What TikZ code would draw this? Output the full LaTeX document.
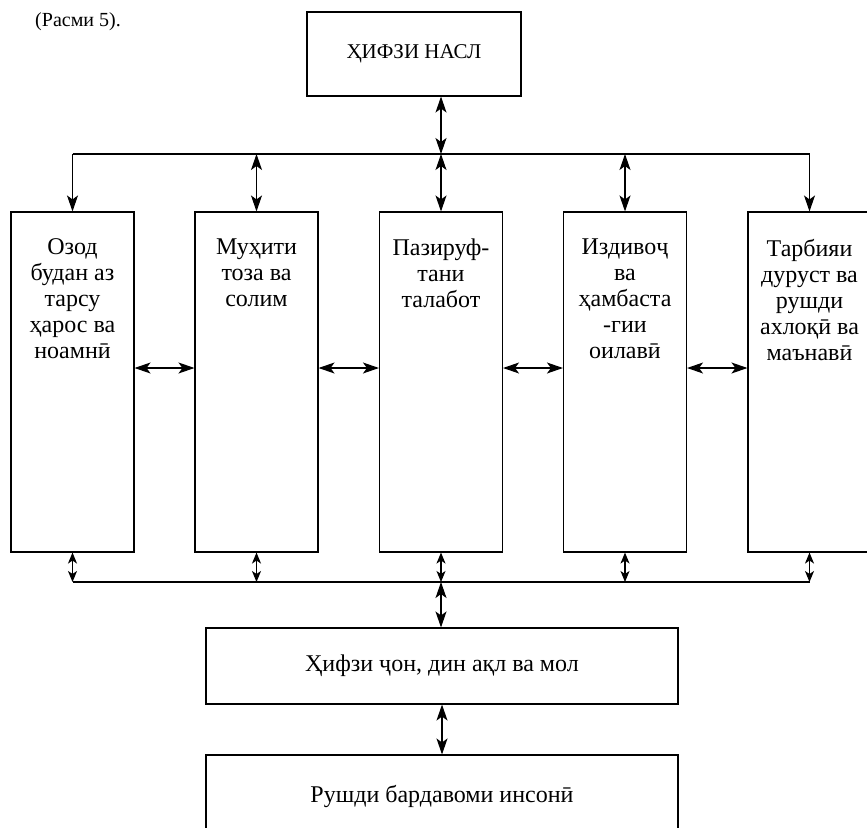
\documentclass[tikz,border=0pt]{standalone}
\usepackage{fontspec}
\setmainfont{Liberation Serif}
\usetikzlibrary{arrows.meta,calc}
\begin{document}
\begin{tikzpicture}[x=1pt,y=-1pt,
  line width=1.1pt,
  every node/.style={font=\fontsize{24}{26}\selectfont},
  colbox/.style={draw, line width=1.1pt, minimum width=123pt, minimum height=340pt, inner sep=0pt},
  widebox/.style={draw, line width=1.1pt, minimum width=472pt, inner sep=0pt},
  coltxt/.style={anchor=north, align=center, inner sep=0pt},
  onetip/.style={-{Stealth[length=16pt,width=11pt,inset=4pt]}},
  twotip/.style={{Stealth[length=16pt,width=11pt,inset=4pt]}-{Stealth[length=16pt,width=11pt,inset=4pt]}},
  shorttip/.style={{Stealth[length=11pt,width=9pt,inset=3pt]}-{Stealth[length=11pt,width=9pt,inset=3pt]}}
]
\useasboundingbox (0,0) rectangle (867,827);

\node[anchor=center, inner sep=0pt, font=\fontsize{20}{24}\selectfont] (cap) at (78,22) {(Расми 5).};

\node[draw, line width=1.1pt, minimum width=214pt, minimum height=84pt, inner sep=0pt, font=\fontsize{21}{25}\selectfont] (top) at (414,54) {ҲИФЗИ НАСЛ};

\node[colbox] (b1) at (72.5,382) {};
\node[colbox] (b2) at (256.5,382) {};
\node[colbox] (b3) at (441,382) {};
\node[colbox] (b4) at (625,382) {};
\node[colbox] (b5) at (809.5,382) {};

\node[coltxt] (t1) at ($(b1.north)+(0,27)$) {Озод\\будан аз\\тарсу\\ҳарос ва\\ноамнӣ};
\node[coltxt] (t2) at ($(b2.north)+(0,27)$) {Муҳити\\тоза ва\\солим};
\node[coltxt] (t3) at ($(b3.north)+(0,27)$) {Пазируф-\\тани\\талабот};
\node[coltxt] (t4) at ($(b4.north)+(0,27)$) {Издивоҷ\\ва\\ҳамбаста\\-гии\\оилавӣ};
\node[coltxt] (t5) at ($(b5.north)+(0,27)$) {Тарбияи\\дуруст ва\\рушди\\ахлоқӣ ва\\маънавӣ};

\node[widebox, minimum height=76pt] (h) at (442,666) {Ҳифзи ҷон, дин ақл ва мол};
\node[widebox, minimum height=82pt] (r) at (442,796) {Рушди бардавоми инсонӣ};

% top bus
\coordinate (tb1) at (b1.north |- 0,154);
\coordinate (tb2) at (b2.north |- 0,154);
\coordinate (tb3) at (b3.north |- 0,154);
\coordinate (tb4) at (b4.north |- 0,154);
\coordinate (tb5) at (b5.north |- 0,154);
\coordinate (tt) at (tb3 |- top.south);
\draw (tb1) -- (tb5);
\draw[twotip] (tt) -- (tb3);
\draw[onetip] (tb1) -- (b1.north);
\draw[onetip] (tb5) -- (b5.north);
\draw[twotip] (tb2) -- (b2.north);
\draw[twotip] (tb3) -- (b3.north);
\draw[twotip] (tb4) -- (b4.north);

% side arrows
\draw[twotip] ($(b1.east)+(0,-14)$) -- ($(b2.west)+(0,-14)$);
\draw[twotip] ($(b2.east)+(0,-14)$) -- ($(b3.west)+(0,-14)$);
\draw[twotip] ($(b3.east)+(0,-14)$) -- ($(b4.west)+(0,-14)$);
\draw[twotip] ($(b4.east)+(0,-14)$) -- ($(b5.west)+(0,-14)$);

% bottom bus
\coordinate (bb1) at (b1.south |- 0,582);
\coordinate (bb2) at (b2.south |- 0,582);
\coordinate (bb3) at (b3.south |- 0,582);
\coordinate (bb4) at (b4.south |- 0,582);
\coordinate (bb5) at (b5.south |- 0,582);
\draw (bb1) -- (bb5);
\draw[shorttip] (b1.south) -- (bb1);
\draw[shorttip] (b2.south) -- (bb2);
\draw[shorttip] (b3.south) -- (bb3);
\draw[shorttip] (b4.south) -- (bb4);
\draw[shorttip] (b5.south) -- (bb5);
\draw[twotip] (bb3) -- (bb3 |- h.north);
\draw[twotip] (h.south) -- (r.north);
\end{tikzpicture}
\end{document}
